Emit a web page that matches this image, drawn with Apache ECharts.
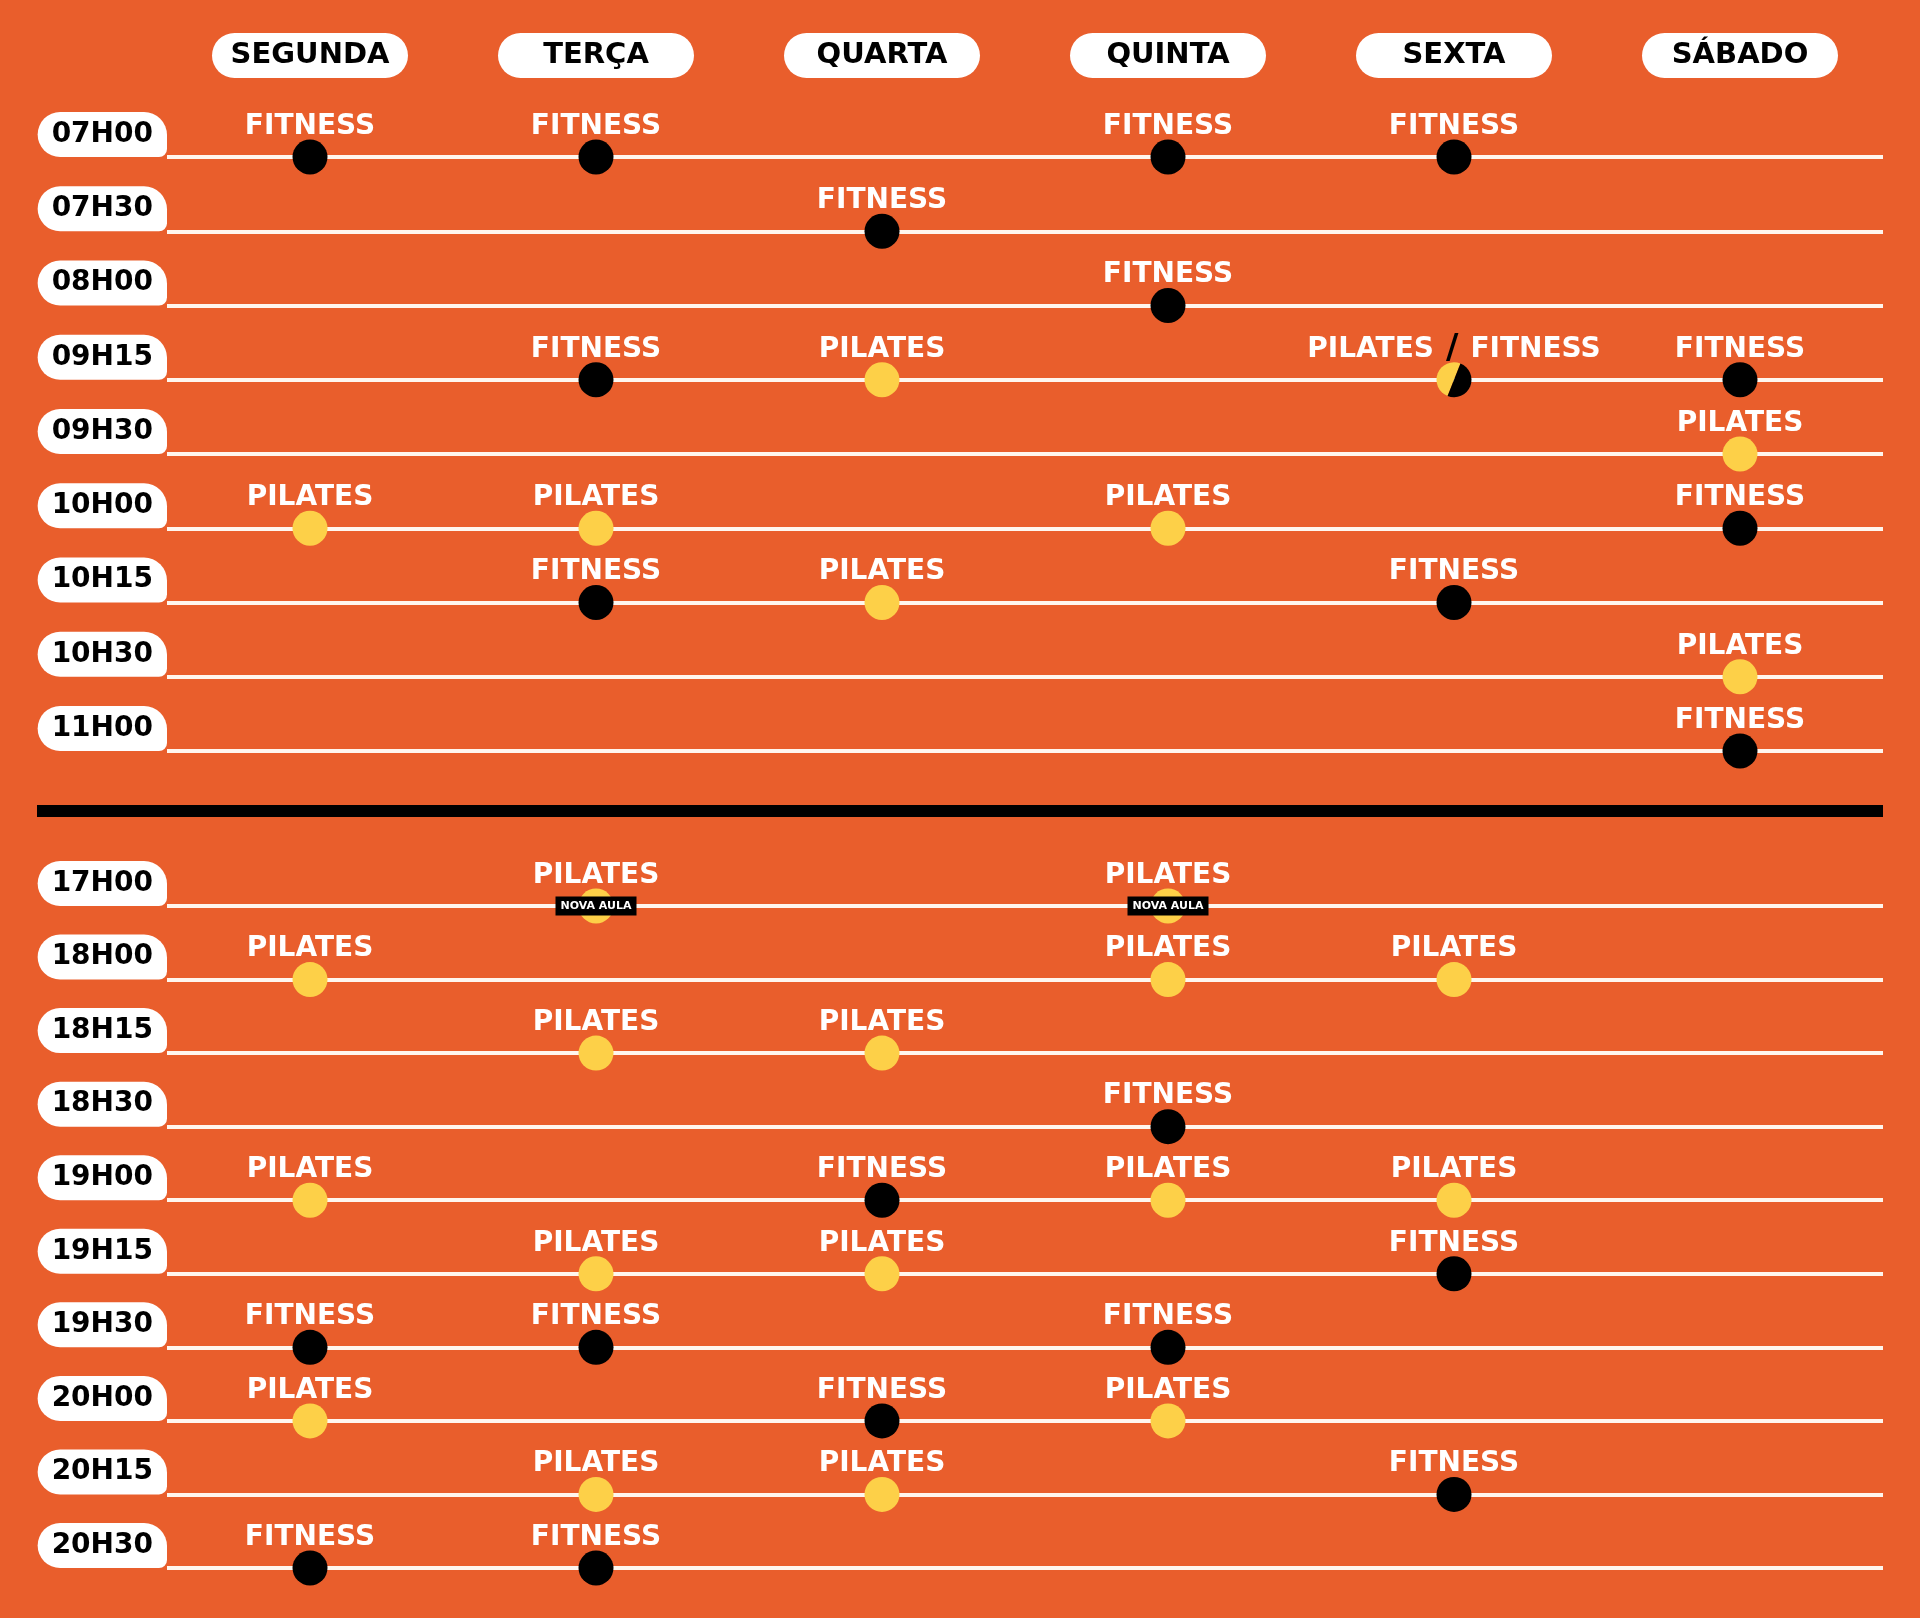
<!DOCTYPE html>
<html>
<head>
<meta charset="utf-8">
<title>Horários</title>
<script src="https://cdn.jsdelivr.net/npm/echarts@6/dist/echarts.min.js"></script>
<style>
html, body { margin: 0; padding: 0; background: #E95E2C; }
#chart { width: 1920px; height: 1618px; }
</style>
</head>
<body>
<div id="chart"></div>
<script>
// dias e horários
const days = ['SEGUNDA', 'TERÇA', 'QUARTA', 'QUINTA', 'SEXTA', 'SÁBADO'];
const morningTimes = ['07H00', '07H30', '08H00', '09H15', '09H30', '10H00', '10H15', '10H30', '11H00'];
const eveningTimes = ['17H00', '18H00', '18H15', '18H30', '19H00', '19H15', '19H30', '20H00', '20H15', '20H30'];

// F = fitness, P = pilates, PF = pilates / fitness, PN = pilates (nova aula)
const morning = [
    ['F', 'F', '', 'F', 'F', ''],
    ['', '', 'F', '', '', ''],
    ['', '', '', 'F', '', ''],
    ['', 'F', 'P', '', 'PF', 'F'],
    ['', '', '', '', '', 'P'],
    ['P', 'P', '', 'P', '', 'F'],
    ['', 'F', 'P', '', 'F', ''],
    ['', '', '', '', '', 'P'],
    ['', '', '', '', '', 'F']
];
const evening = [
    ['', 'PN', '', 'PN', '', ''],
    ['P', '', '', 'P', 'P', ''],
    ['', 'P', 'P', '', '', ''],
    ['', '', '', 'F', '', ''],
    ['P', '', 'F', 'P', 'P', ''],
    ['', 'P', 'P', '', 'F', ''],
    ['F', 'F', '', 'F', '', ''],
    ['P', '', 'F', 'P', '', ''],
    ['', 'P', 'P', '', 'F', ''],
    ['F', 'F', '', '', '', '']
];

const ORANGE = '#E95E2C';
const YELLOW = '#FDD048';
const LINE = '#FFF6EE';
const FONT = 'DejaVu Sans';

// pega as células de um certo tipo
function cells(table, times, codes) {
    const out = [];
    table.forEach(function (row, r) {
        row.forEach(function (v, c) {
            if (codes.indexOf(v) >= 0) out.push([days[c], times[r]]);
        });
    });
    return out;
}

const labelStyle = {
    show: true,
    position: 'top',
    distance: -2,
    color: '#fff',
    fontFamily: FONT,
    fontWeight: 'bold',
    fontSize: 28,
    lineHeight: 30
};

function seriesFor(g, table, times) {
    return [
        {
            type: 'scatter', xAxisIndex: g, yAxisIndex: g,
            symbolSize: 35, itemStyle: { color: '#000', opacity: 1 },
            label: Object.assign({ formatter: 'FITNESS' }, labelStyle),
            data: cells(table, times, ['F']), z: 3
        },
        {
            type: 'scatter', xAxisIndex: g, yAxisIndex: g,
            symbolSize: 35, itemStyle: { color: YELLOW, opacity: 1 },
            label: Object.assign({ formatter: 'PILATES' }, labelStyle),
            data: cells(table, times, ['P', 'PN']), z: 3
        },
        {
            type: 'scatter', xAxisIndex: g, yAxisIndex: g,
            symbol: 'rect', symbolSize: [81, 19], itemStyle: { color: '#000', opacity: 1 },
            label: {
                show: true, position: 'inside', formatter: 'NOVA AULA',
                color: '#fff', fontFamily: FONT, fontWeight: 'bold', fontSize: 11
            },
            data: cells(table, times, ['PN']), z: 4
        },
        {
            type: 'custom', xAxisIndex: g, yAxisIndex: g,
            encode: { x: 0, y: 1 },
            data: cells(table, times, ['PF']), z: 3,
            renderItem: function (params, api) {
                const p = api.coord([api.value(0), api.value(1)]);
                const r = 17.5;
                return {
                    type: 'group',
                    children: [
                        { type: 'sector', shape: { cx: p[0], cy: p[1], r: r, startAngle: Math.PI * 0.62, endAngle: Math.PI * 1.62, clockwise: true }, style: { fill: YELLOW } },
                        { type: 'sector', shape: { cx: p[0], cy: p[1], r: r, startAngle: -Math.PI * 0.38, endAngle: Math.PI * 0.62, clockwise: true }, style: { fill: '#000' } },
                        {
                            type: 'text', x: p[0], y: p[1] - r + 2,
                            style: {
                                text: '{w|PILATES}{g|}{s|/}{g|}{w|FITNESS}',
                                align: 'center', verticalAlign: 'bottom',
                                rich: {
                                    w: { fill: '#fff', fontFamily: FONT, fontWeight: 'bold', fontSize: 28, lineHeight: 30 },
                                    g: { width: 12 },
                                    s: { fill: '#000', fontFamily: FONT, fontWeight: 'bold', fontSize: 34, lineHeight: 30 }
                                }
                            }
                        }
                    ]
                };
            }
        }
    ];
}

function yAxisFor(g, times) {
    return {
        type: 'category', gridIndex: g, data: times, inverse: true, boundaryGap: false,
        axisLine: { show: false }, axisTick: { show: false },
        splitLine: { show: true, lineStyle: { color: LINE, width: 4 } },
        axisLabel: {
            margin: 0, verticalAlign: 'bottom', align: 'right',
            color: '#000', fontFamily: FONT, fontWeight: 'bold', fontSize: 28,
            lineHeight: 29, padding: [8, 14, 8, 14],
            backgroundColor: '#fff', borderRadius: [23, 23, 8, 23]
        }
    };
}

const chart = echarts.init(document.getElementById('chart'));
chart.setOption({
    backgroundColor: ORANGE,
    animation: false,
    grid: [
        { left: 167, width: 1716, top: 157, height: 594 },
        { left: 167, width: 1716, top: 906, height: 662 }
    ],
    xAxis: [
        {
            type: 'category', gridIndex: 0, data: days, position: 'top', boundaryGap: true,
            axisLine: { show: false }, axisTick: { show: false }, splitLine: { show: false },
            axisLabel: {
                margin: 79, width: 196, align: 'center', lineHeight: 45,
                color: '#000', fontFamily: FONT, fontWeight: 'bold', fontSize: 29,
                backgroundColor: '#fff', borderRadius: 23
            }
        },
        {
            type: 'category', gridIndex: 1, data: days, boundaryGap: true, show: false
        }
    ],
    yAxis: [yAxisFor(0, morningTimes), yAxisFor(1, eveningTimes)],
    graphic: [
        { type: 'rect', shape: { x: 37, y: 805, width: 1846, height: 12 }, style: { fill: '#000' } }
    ],
    series: seriesFor(0, morning, morningTimes).concat(seriesFor(1, evening, eveningTimes))
});
</script>
</body>
</html>
